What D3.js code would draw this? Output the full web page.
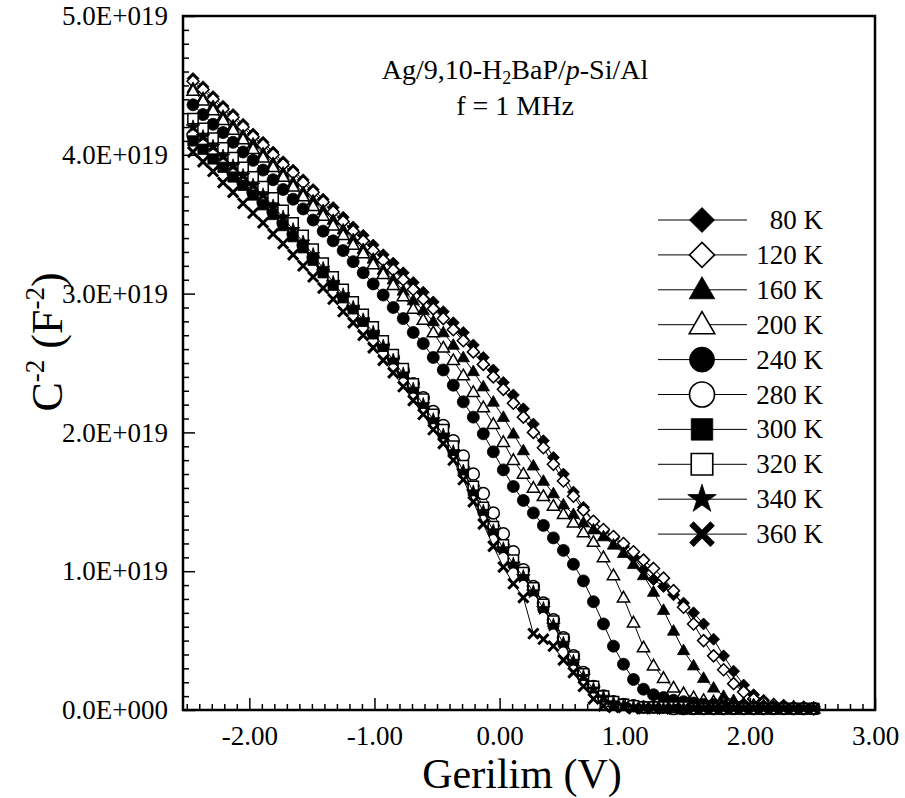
<!DOCTYPE html>
<html>
<head>
<meta charset="utf-8">
<script src="https://cdn.jsdelivr.net/npm/d3@7"></script>
<style>
  body { margin: 0; background: #fff; }
  svg text { font-family: "Liberation Serif", "Times New Roman", serif; fill: #000; }
</style>
</head>
<body>
<svg id="chart" width="905" height="798"></svg>
<script>
// Bias voltage (V), shared by every temperature sweep
const voltage = [
  -2.45,-2.37,-2.29,-2.21,-2.13,-2.05,-1.97,-1.89,-1.81,-1.73,
  -1.65,-1.57,-1.49,-1.41,-1.33,-1.25,-1.17,-1.09,-1.01,-0.93,
  -0.85,-0.77,-0.69,-0.61,-0.53,-0.45,-0.37,-0.29,-0.21,-0.13,
  -0.05,0.03,0.11,0.19,0.27,0.35,0.43,0.51,0.59,0.67,
  0.75,0.83,0.91,0.99,1.07,1.15,1.23,1.31,1.39,1.47,
  1.55,1.63,1.71,1.79,1.87,1.95,2.03,2.11,2.19,2.27,
  2.35,2.43,2.51
];

// C^-2 in units of 1e19 F^-2, one array per temperature
const c80K = [
  4.55,4.49,4.42,4.35,4.29,4.22,4.15,4.09,4.02,3.95,
  3.89,3.82,3.75,3.68,3.62,3.55,3.48,3.42,3.35,3.28,
  3.22,3.15,3.08,3.01,2.94,2.87,2.79,2.72,2.63,2.54,
  2.45,2.36,2.27,2.17,2.06,1.94,1.82,1.70,1.57,1.46,
  1.36,1.29,1.24,1.18,1.10,1.01,0.94,0.89,0.83,0.77,
  0.70,0.62,0.51,0.39,0.28,0.18,0.11,0.07,0.04,0.03,
  0.02,0.01,0.01
];
const c120K = [
  4.53,4.47,4.40,4.33,4.27,4.20,4.13,4.07,4.00,3.93,
  3.87,3.80,3.73,3.66,3.59,3.52,3.45,3.38,3.31,3.24,
  3.17,3.10,3.03,2.96,2.89,2.82,2.74,2.66,2.58,2.49,
  2.40,2.31,2.21,2.11,2.00,1.89,1.77,1.65,1.54,1.44,
  1.36,1.30,1.25,1.20,1.14,1.08,1.02,0.95,0.86,0.74,
  0.62,0.50,0.39,0.29,0.19,0.13,0.08,0.05,0.04,0.03,
  0.02,0.02,0.01
];
const c160K = [
  4.48,4.41,4.35,4.28,4.21,4.14,4.08,4.01,3.94,3.87,
  3.80,3.73,3.67,3.60,3.53,3.46,3.39,3.32,3.25,3.17,
  3.10,3.02,2.95,2.88,2.80,2.72,2.63,2.54,2.44,2.33,
  2.22,2.11,1.99,1.87,1.76,1.65,1.56,1.48,1.41,1.35,
  1.30,1.25,1.19,1.13,1.05,0.97,0.85,0.72,0.57,0.43,
  0.32,0.23,0.16,0.10,0.07,0.05,0.04,0.03,0.02,0.02,
  0.01,0.01,0.01
];
const c200K = [
  4.46,4.39,4.32,4.25,4.18,4.11,4.04,3.98,3.91,3.84,
  3.77,3.70,3.63,3.56,3.49,3.42,3.35,3.29,3.21,3.14,
  3.06,2.98,2.89,2.81,2.72,2.61,2.52,2.41,2.29,2.18,
  2.06,1.93,1.80,1.70,1.60,1.54,1.47,1.41,1.35,1.28,
  1.21,1.10,0.97,0.81,0.63,0.45,0.32,0.23,0.16,0.12,
  0.09,0.07,0.06,0.05,0.04,0.03,0.03,0.03,0.02,0.02,
  0.02,0.01,0.01
];
const c240K = [
  4.36,4.29,4.22,4.16,4.09,4.02,3.96,3.89,3.82,3.75,
  3.68,3.61,3.53,3.45,3.38,3.31,3.23,3.15,3.07,2.99,
  2.90,2.82,2.72,2.64,2.54,2.45,2.34,2.22,2.11,1.99,
  1.86,1.73,1.61,1.51,1.42,1.33,1.24,1.15,1.05,0.93,
  0.78,0.62,0.46,0.33,0.22,0.15,0.11,0.09,0.07,0.06,
  0.05,0.04,0.04,0.03,0.03,0.03,0.02,0.02,0.02,0.02,
  0.01,0.01,0.01
];
const c280K = [
  4.14,4.08,4.01,3.94,3.87,3.80,3.73,3.66,3.59,3.51,
  3.43,3.35,3.26,3.17,3.08,2.99,2.90,2.81,2.72,2.63,
  2.54,2.45,2.35,2.25,2.15,2.05,1.94,1.83,1.70,1.56,
  1.42,1.27,1.14,1.01,0.89,0.77,0.65,0.52,0.39,0.27,
  0.17,0.10,0.06,0.04,0.03,0.02,0.02,0.02,0.01,0.01,
  0.01,0.01,0.01,0.01,0.01,0.01,0.01,0.01,0.01,0.01,
  0.01,0.01,0.01
];
const c300K = [
  4.10,4.04,3.97,3.91,3.84,3.78,3.71,3.64,3.57,3.49,
  3.41,3.33,3.24,3.15,3.06,2.97,2.89,2.80,2.71,2.62,
  2.53,2.43,2.32,2.21,2.10,1.99,1.87,1.73,1.58,1.44,
  1.30,1.17,1.06,0.97,0.86,0.74,0.62,0.49,0.36,0.25,
  0.16,0.10,0.06,0.04,0.03,0.02,0.02,0.02,0.02,0.01,
  0.01,0.01,0.01,0.01,0.01,0.01,0.01,0.01,0.01,0.01,
  0.01,0.01,0.01
];
const c320K = [
  4.26,4.19,4.12,4.05,3.98,3.91,3.84,3.77,3.69,3.60,
  3.51,3.42,3.32,3.22,3.12,3.03,2.94,2.85,2.76,2.66,
  2.56,2.46,2.35,2.24,2.13,2.02,1.90,1.76,1.61,1.46,
  1.32,1.19,1.08,0.99,0.88,0.76,0.64,0.51,0.38,0.26,
  0.17,0.10,0.06,0.04,0.03,0.02,0.02,0.02,0.02,0.02,
  0.01,0.01,0.01,0.01,0.01,0.01,0.01,0.01,0.01,0.01,
  0.01,0.01,0.01
];
const c340K = [
  4.20,4.13,4.06,3.99,3.92,3.85,3.78,3.71,3.63,3.55,
  3.46,3.37,3.28,3.18,3.08,2.99,2.90,2.81,2.72,2.62,
  2.52,2.42,2.31,2.20,2.09,1.98,1.86,1.72,1.57,1.43,
  1.29,1.16,1.05,0.96,0.85,0.73,0.61,0.48,0.35,0.24,
  0.15,0.09,0.05,0.03,0.02,0.02,0.02,0.01,0.01,0.01,
  0.01,0.01,0.01,0.01,0.01,0.01,0.01,0.01,0.01,0.01,
  0.01,0.01,0.01
];
const c360K = [
  4.02,3.95,3.88,3.80,3.73,3.65,3.58,3.51,3.43,3.36,
  3.28,3.20,3.12,3.04,2.96,2.87,2.79,2.70,2.61,2.52,
  2.43,2.33,2.23,2.13,2.02,1.92,1.80,1.66,1.50,1.34,
  1.18,1.03,0.91,0.81,0.55,0.51,0.46,0.36,0.27,0.17,
  0.08,0.03,0.02,0.02,0.01,0.01,0.01,0.01,0.01,0.01,
  0.01,0.01,0.01,0.01,0.01,0.01,0.01,0.01,0.01,0.01,
  0.01,0.01,0.01
];

const temperatureLabels = ["80 K","120 K","160 K","200 K","240 K","280 K","300 K","320 K","340 K","360 K"];
const markerShapes = ["diamond","diamond","triangle","triangle","circle","circle","square","square","star","cross"];
const markerFilled = [true,false,true,false,true,false,true,false,true,true];

const xTickValues = [-2,-1,0,1,2,3];
const xTickLabels = ["-2.00","-1.00","0.00","1.00","2.00","3.00"];
const yTickValues = [0,1,2,3,4,5];
const yTickLabels = ["0.0E+000","1.0E+019","2.0E+019","3.0E+019","4.0E+019","5.0E+019"];

const seriesValues = [c80K,c120K,c160K,c200K,c240K,c280K,c300K,c320K,c340K,c360K];

// ---- layout ----
const plot = { left: 183, right: 875, top: 16, bottom: 710 };
const svg = d3.select("#chart");

const x = d3.scaleLinear().domain([-2.53, 3.0]).range([plot.left, plot.right]);
const y = d3.scaleLinear().domain([0, 5]).range([plot.bottom, plot.top]);

function shapePath(shape, r) {
  switch (shape) {
    case "diamond":
      return `M0,${-r}L${r},0L0,${r}L${-r},0Z`;
    case "triangle":
      return `M0,${-r * 1.05}L${r * 1.02},${r * 0.72}L${-r * 1.02},${r * 0.72}Z`;
    case "circle":
      return d3.symbol(d3.symbolCircle, Math.PI * r * r)();
    case "square": {
      const s = r * 0.86;
      return `M${-s},${-s}L${s},${-s}L${s},${s}L${-s},${s}Z`;
    }
    case "star":
      return d3.symbol(d3.symbolStar, (r * 1.2) * (r * 1.2) / 0.8908)();
    case "cross":
      return `M${-r * 0.85},${-r * 0.85}L${r * 0.85},${r * 0.85}M${-r * 0.85},${r * 0.85}L${r * 0.85},${-r * 0.85}`;
  }
}

function drawMarker(g, shape, filled, r) {
  const p = g.append("path").attr("d", shapePath(shape, r));
  if (shape === "cross") {
    p.attr("fill", "none").attr("stroke", "#000").attr("stroke-width", r * 0.5);
  } else {
    p.attr("fill", filled ? "#000" : "#fff")
     .attr("stroke", "#000")
     .attr("stroke-width", filled ? 0.8 : Math.max(1.5, r * 0.13));
  }
  return p;
}

// ---- data series ----
const line = d3.line().x((d, i) => x(voltage[i])).y(d => y(d));
const dataLayer = svg.append("g");

seriesValues.forEach((vals, k) => {
  const g = dataLayer.append("g");
  g.append("path")
    .attr("d", line(vals))
    .attr("fill", "none")
    .attr("stroke", "#000")
    .attr("stroke-width", 1);
  vals.forEach((v, i) => {
    const m = g.append("g").attr("transform", `translate(${x(voltage[i])},${y(v)})`);
    drawMarker(m, markerShapes[k], markerFilled[k], 6);
  });
});

// ---- axes ----
const xMinor = d3.range(-25, 31).map(d => d / 10).filter(d => Math.abs(d - Math.round(d)) > 1e-6);
const yMinor = d3.range(1, 50).map(d => d / 10).filter(d => Math.abs(d - Math.round(d)) > 1e-6);

svg.append("g")
  .attr("transform", `translate(0,${plot.bottom})`)
  .call(d3.axisBottom(x).tickValues(xMinor).tickSize(-6).tickFormat(""))
  .call(g => g.select(".domain").remove())
  .call(g => g.selectAll("line").attr("stroke", "#000").attr("stroke-width", 1.5));

svg.append("g")
  .attr("transform", `translate(0,${plot.bottom})`)
  .call(d3.axisBottom(x).tickValues(xTickValues).tickSize(-12).tickPadding(16)
        .tickFormat((d, i) => xTickLabels[i]))
  .call(g => g.select(".domain").remove())
  .call(g => g.selectAll("line").attr("stroke", "#000").attr("stroke-width", 1.5))
  .call(g => g.selectAll("text").attr("font-size", 27)
        .style("font-family", '"Liberation Serif", "Times New Roman", serif'));

svg.append("g")
  .attr("transform", `translate(${plot.left},0)`)
  .call(d3.axisLeft(y).tickValues(yMinor).tickSize(-6).tickFormat(""))
  .call(g => g.select(".domain").remove())
  .call(g => g.selectAll("line").attr("stroke", "#000").attr("stroke-width", 1.5));

svg.append("g")
  .attr("transform", `translate(${plot.left},0)`)
  .call(d3.axisLeft(y).tickValues(yTickValues).tickSize(-12).tickPadding(15)
        .tickFormat((d, i) => yTickLabels[i]))
  .call(g => g.select(".domain").remove())
  .call(g => g.selectAll("line").attr("stroke", "#000").attr("stroke-width", 1.5))
  .call(g => g.selectAll("text").attr("font-size", 27)
        .style("font-family", '"Liberation Serif", "Times New Roman", serif'));

// plot frame
svg.append("rect")
  .attr("x", plot.left).attr("y", plot.top)
  .attr("width", plot.right - plot.left).attr("height", plot.bottom - plot.top)
  .attr("fill", "none").attr("stroke", "#000").attr("stroke-width", 2.5);

// ---- axis titles ----
svg.append("text")
  .attr("x", 522).attr("y", 788)
  .attr("text-anchor", "middle").attr("font-size", 42)
  .text("Gerilim (V)");

const yTitle = svg.append("text")
  .attr("transform", "translate(62,342) rotate(-90)")
  .attr("text-anchor", "middle").attr("font-size", 44);
yTitle.append("tspan").text("C");
yTitle.append("tspan").attr("font-size", 27).attr("dy", -18).text("-2");
yTitle.append("tspan").attr("dy", 18).text(" (F");
yTitle.append("tspan").attr("font-size", 27).attr("dy", -18).text("-2");
yTitle.append("tspan").attr("dy", 18).text(")");

// ---- sample annotation ----
const t1 = svg.append("text")
  .attr("x", 515).attr("y", 79)
  .attr("text-anchor", "middle").attr("font-size", 28);
t1.append("tspan").text("Ag/9,10-H");
t1.append("tspan").attr("font-size", 18).attr("dy", 5).text("2");
t1.append("tspan").attr("dy", -5).text("BaP/");
t1.append("tspan").attr("font-style", "italic").text("p");
t1.append("tspan").text("-Si/Al");

svg.append("text")
  .attr("x", 515).attr("y", 115)
  .attr("text-anchor", "middle").attr("font-size", 28)
  .text("f = 1 MHz");

// ---- legend ----
const legend = svg.append("g");
temperatureLabels.forEach((label, k) => {
  const yy = 220 + k * 34.9;
  const row = legend.append("g").attr("transform", `translate(0,${yy})`);
  row.append("line").attr("x1", 658).attr("x2", 747).attr("y1", 0).attr("y2", 0)
    .attr("stroke", "#000").attr("stroke-width", 1);
  const m = row.append("g").attr("transform", "translate(702,0)");
  drawMarker(m, markerShapes[k], markerFilled[k], 12.5);
  row.append("text").attr("x", 823).attr("y", 9)
    .attr("text-anchor", "end").attr("font-size", 27).text(label);
});
</script>
</body>
</html>
